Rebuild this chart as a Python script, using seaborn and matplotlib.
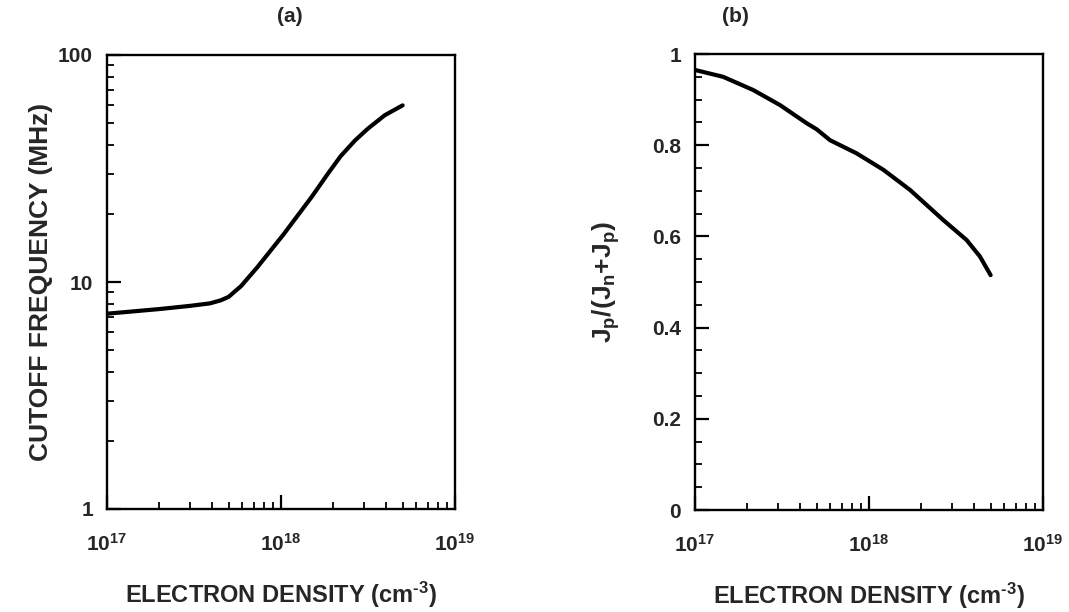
import numpy as np
import pandas as pd
import matplotlib
matplotlib.use("Agg")
import matplotlib.pyplot as plt
import matplotlib.ticker as mticker
import seaborn as sns

# ---- data ----
density_a = [1e17, 2e17, 3e17, 3.9e17, 4.5e17, 5e17, 5.9e17, 7.3e17, 1.04e18,
             1.5e18, 1.86e18, 2.2e18, 2.66e18, 3.17e18, 3.95e18, 5e18]
cutoff_mhz = [7.25, 7.6, 7.85, 8.05, 8.3, 8.6, 9.6, 11.6, 16.3,
              23.7, 30.0, 35.8, 42.0, 47.5, 54.3, 60.0]

density_b = [1e17, 1.45e17, 2.16e17, 3.08e17, 4.39e17, 5.0e17, 5.97e17, 8.5e17,
             1.21e18, 1.72e18, 2.67e18, 3.64e18, 4.34e18, 5e18]
jp_ratio = [0.965, 0.950, 0.921, 0.888, 0.848, 0.835, 0.811, 0.782,
            0.746, 0.702, 0.636, 0.592, 0.556, 0.515]

x_ticks = [1e17, 1e18, 1e19]
x_ticklabels = [r"$10^{17}$", r"$10^{18}$", r"$10^{19}$"]
ya_ticks = [1, 10, 100]
ya_ticklabels = ["1", "10", "100"]
yb_ticks = [0, 0.2, 0.4, 0.6, 0.8, 1.0]
yb_ticklabels = ["0", "0.2", "0.4", "0.6", "0.8", "1"]

xlabel = "ELECTRON DENSITY (cm$^{\u2010 3}$)"
ylabel_a = "CUTOFF FREQUENCY (MHz)"
ylabel_b = r"J$_p$/(J$_n$+J$_p$)"
panel_titles = ["(a)", "(b)"]

# ---- style ----
sns.set_theme(style="ticks")
plt.rcParams["font.family"] = ["Liberation Sans", "DejaVu Sans"]
plt.rcParams["font.weight"] = "bold"
plt.rcParams["mathtext.fontset"] = "custom"
plt.rcParams["mathtext.rm"] = "Liberation Sans:bold"
plt.rcParams["mathtext.it"] = "Liberation Sans:bold"
plt.rcParams["mathtext.bf"] = "Liberation Sans:bold"
plt.rcParams["mathtext.default"] = "rm"

fig = plt.figure(figsize=(10.69, 6.12), dpi=100)
ax_a = fig.add_axes([107 / 1069, 1 - 509 / 612, 348 / 1069, 454 / 612])
ax_b = fig.add_axes([695 / 1069, 1 - 510 / 612, 348 / 1069, 456 / 612])

df_a = pd.DataFrame({"density": density_a, "cutoff": cutoff_mhz})
df_b = pd.DataFrame({"density": density_b, "ratio": jp_ratio})

sns.lineplot(data=df_a, x="density", y="cutoff", ax=ax_a, color="black", linewidth=3.0)
sns.lineplot(data=df_b, x="density", y="ratio", ax=ax_b, color="black", linewidth=3.0)

TICK_FS = 15
LABEL_FS = 17

for ax in (ax_a, ax_b):
    ax.set_xscale("log")
    ax.set_xlim(1e17, 1e19)
    ax.set_xticks(x_ticks)
    ax.set_xticklabels(x_ticklabels)
    ax.xaxis.set_minor_locator(mticker.LogLocator(base=10, subs=np.arange(2, 10)))
    ax.xaxis.set_minor_formatter(mticker.NullFormatter())
    for s in ax.spines.values():
        s.set_linewidth(1.7)
        s.set_color("black")
        s.set_visible(True)
    ax.tick_params(axis="both", which="major", direction="in", length=10, width=1.6,
                   labelsize=TICK_FS, top=False, right=False, color="black")
    ax.tick_params(axis="both", which="minor", direction="in", length=5, width=1.3,
                   top=False, right=False, color="black")
    ax.tick_params(axis="x", which="major", pad=17)
    ax.tick_params(axis="y", which="major", pad=10)
    ax.set_xlabel(xlabel, fontsize=LABEL_FS, fontweight="bold", labelpad=18)
    for lab in ax.get_xticklabels() + ax.get_yticklabels():
        lab.set_fontweight("bold")

ax_a.set_yscale("log")
ax_a.set_ylim(1, 100)
ax_a.set_yticks(ya_ticks)
ax_a.set_yticklabels(ya_ticklabels, fontweight="bold")
ax_a.yaxis.set_minor_locator(mticker.LogLocator(base=10, subs=np.arange(2, 10)))
ax_a.yaxis.set_minor_formatter(mticker.NullFormatter())
ax_a.set_ylabel(ylabel_a, fontsize=19, fontweight="bold", labelpad=4)

ax_b.set_ylim(0, 1)
ax_b.set_yticks(yb_ticks)
ax_b.set_yticklabels(yb_ticklabels, fontweight="bold")
ax_b.yaxis.set_minor_locator(mticker.MultipleLocator(0.05))
ax_b.set_ylabel(ylabel_b, fontsize=19, fontweight="bold", labelpad=22)

fig.text(290 / 1069, 1 - 17 / 612, panel_titles[0], ha="center", va="center",
         fontsize=TICK_FS, fontweight="bold")
fig.text(735 / 1069, 1 - 17 / 612, panel_titles[1], ha="center", va="center",
         fontsize=TICK_FS, fontweight="bold")

fig.savefig("out.png", dpi=100, facecolor="white")
